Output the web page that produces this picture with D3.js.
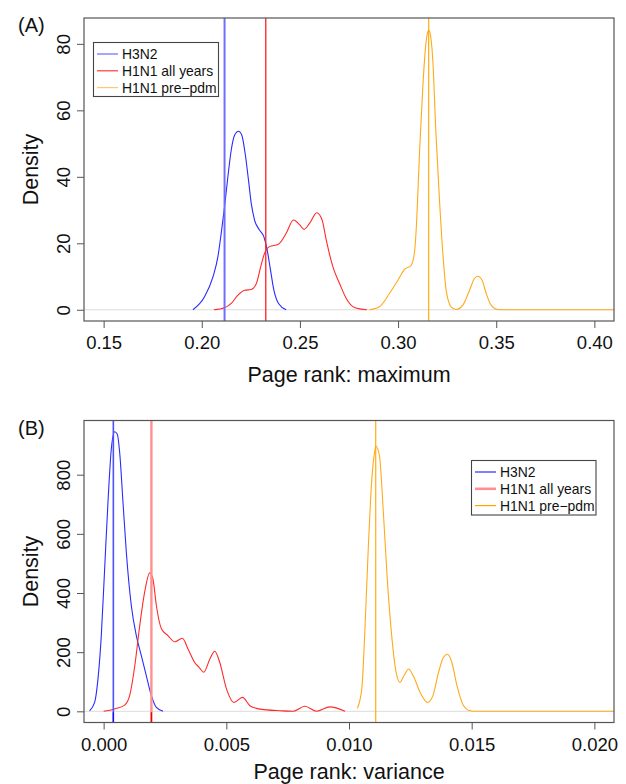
<!DOCTYPE html>
<html>
<head>
<meta charset="utf-8">
<script src="https://cdn.jsdelivr.net/npm/d3@7"></script>
<style>
html,body{margin:0;padding:0;background:#fff;}
svg{display:block;font-family:"Liberation Sans",Arial,Helvetica,sans-serif;}
</style>
</head>
<body>
<svg id="chart" width="626" height="784"></svg>
<script>
// ---------------- DATA ----------------
const seriesNames = ["H3N2", "H1N1 all years", "H1N1 pre\u2212pdm"];

// Panel A: Page rank maximum (x, density)
const aH3N2 = [[0.1955,0],[0.2014,3.9],[0.2057,9.9],[0.2082,15.9],[0.2099,23],[0.2116,31],[0.2133,40],[0.2150,48],[0.2167,52.5],[0.2187,53.7],[0.2204,52.5],[0.2221,47],[0.2238,39],[0.2252,32],[0.2269,27],[0.2294,24],[0.2316,22],[0.2333,18],[0.2350,12],[0.2367,6],[0.2391,1.9],[0.2430,0]];
const aH1N1all = [[0.2062,0],[0.2116,0.6],[0.2150,1.9],[0.2184,4.4],[0.2218,5.9],[0.2252,6.1],[0.2278,7.9],[0.2300,12.9],[0.2320,17],[0.2345,19],[0.2390,19.7],[0.2430,23],[0.2467,27],[0.2498,25.6],[0.2521,24.2],[0.2549,26],[0.2586,29.2],[0.2613,27],[0.2634,21],[0.2668,12.9],[0.2702,7.9],[0.2736,3.4],[0.2778,0.7],[0.2841,0]];
const aH1N1pre = [[0.2854,0],[0.2905,0.9],[0.2956,4.9],[0.2999,8.9],[0.3032,12.1],[0.3067,13.4],[0.3083,17],[0.3095,27],[0.3109,47],[0.3126,67],[0.3140,79],[0.3151,83.6],[0.3156,84.1],[0.3163,83.2],[0.3177,75],[0.3193,53],[0.3211,33],[0.3228,17],[0.3245,5.9],[0.3270,0.9],[0.3296,0.1],[0.3330,1.4],[0.3364,5.9],[0.3389,9.4],[0.3406,10.1],[0.3428,8.9],[0.3449,4.9],[0.3474,1.4],[0.3508,0.1],[0.3600,0],[0.4150,0]];
const aMarkers = [0.2116, 0.2326, 0.3156];
const aXTicks = [0.15, 0.20, 0.25, 0.30, 0.35, 0.40];
const aYTicks = [0, 20, 40, 60, 80];
const aXLim = [0.15, 0.40];
const aYLim = [0, 84.4];

// Panel B: Page rank variance (x, density)
const bH3N2 = [[-0.000571,2],[-0.000367,30],[-0.000231,109],[-0.000095,256],[0.000041,481],[0.000177,707],[0.000313,887],[0.000449,945],[0.000558,937],[0.000653,876],[0.000789,707],[0.000925,538],[0.001129,357],[0.001333,256],[0.001537,188],[0.001741,120],[0.001947,53],[0.00215,13],[0.00242,0]];
const bH1N1all = [[0.0000,0],[0.000449,8],[0.000857,21],[0.00106,53],[0.00127,154],[0.00147,289],[0.00167,402],[0.00188,468],[0.00201,447],[0.00215,357],[0.00236,278],[0.00262,256],[0.00290,235],[0.00321,247],[0.00344,211],[0.00371,165],[0.00390,148],[0.00408,132],[0.00433,177],[0.00453,203],[0.00473,166],[0.00501,75],[0.00531,30],[0.00566,47],[0.00596,19],[0.00623,10],[0.00664,5],[0.00718,2],[0.00773,0],[0.00820,17],[0.00868,0],[0.00922,15],[0.00984,0]];
const bH1N1pre = [[0.01034,10],[0.01052,75],[0.01065,278],[0.01079,560],[0.01093,785],[0.01105,880],[0.01110,896],[0.01124,864],[0.0114,673],[0.01156,447],[0.01174,256],[0.01192,132],[0.01208,98],[0.01224,120],[0.01243,143],[0.01262,120],[0.0129,64],[0.0132,30],[0.01342,53],[0.01365,132],[0.01385,183],[0.01401,193],[0.01419,166],[0.0144,87],[0.01467,19],[0.01494,2],[0.0152,0],[0.0215,0]];
const bMarkers = [0.000396, 0.001947, 0.01109];
const bXTicks = [0, 0.005, 0.010, 0.015, 0.020];
const bYTicks = [0, 200, 400, 600, 800];
const bXLim = [0, 0.020];
const bYLim = [0, 945.4];

// ---------------- DRAW ----------------
const svg = d3.select("#chart");
const frameCol = "#555";

function ext(lim){ const r = lim[1]-lim[0]; return [lim[0]-0.04*r, lim[1]+0.04*r]; }

function panel(cfg){
  const {top, bottom, left, right} = cfg.box;
  const x = d3.scaleLinear().domain(ext(cfg.xlim)).range([left, right]);
  const y = d3.scaleLinear().domain(ext(cfg.ylim)).range([bottom, top]);
  const g = svg.append("g");
  const clipId = "clip" + cfg.id;
  svg.append("clipPath").attr("id", clipId).append("rect")
    .attr("x", left).attr("y", top).attr("width", right-left).attr("height", bottom-top);
  const pg = g.append("g").attr("clip-path", `url(#${clipId})`);

  // zero line
  pg.append("line").attr("x1", left).attr("x2", right)
    .attr("y1", y(0)).attr("y2", y(0)).attr("stroke", "#dcdcdc").attr("stroke-width", 1);

  const line = d3.line().x(d => x(d[0])).y(d => y(d[1])).curve(d3.curveMonotoneX);
  cfg.series.forEach((s, i) => {
    pg.append("path").datum(s).attr("d", line).attr("fill", "none")
      .attr("stroke", cfg.curveColors[i]).attr("stroke-width", 1.1);
  });

  // vertical markers
  cfg.markers.forEach((m, i) => {
    const st = cfg.markerStyles[i];
    pg.append("line").attr("x1", x(m)).attr("x2", x(m)).attr("y1", top).attr("y2", bottom)
      .attr("stroke", st.c).attr("stroke-width", st.w);
    if (st.bottom) {
      pg.append("line").attr("x1", x(m)).attr("x2", x(m)).attr("y1", y(0)+1).attr("y2", bottom)
        .attr("stroke", st.bottom).attr("stroke-width", 1.3);
    }
  });

  // box
  g.append("rect").attr("x", left).attr("y", top).attr("width", right-left).attr("height", bottom-top)
    .attr("fill", "none").attr("stroke", frameCol).attr("stroke-width", 1.2);

  // x axis
  const xa = d3.axisBottom(x).tickValues(cfg.xticks).tickSize(7).tickPadding(8).tickFormat(cfg.xfmt);
  const gx = g.append("g").attr("transform", `translate(0,${bottom})`).call(xa);
  gx.select(".domain").remove();
  gx.selectAll("line").attr("stroke", frameCol);
  gx.selectAll("text").attr("font-size", 18.5).attr("fill", "#111").attr("font-family", "Liberation Sans, Arial, sans-serif");

  // y axis (rotated labels as in R)
  const ya = d3.axisLeft(y).tickValues(cfg.yticks).tickSize(7).tickFormat(d3.format("d"));
  const gy = g.append("g").attr("transform", `translate(${left},0)`).call(ya);
  gy.select(".domain").remove();
  gy.selectAll("line").attr("stroke", frameCol);
  gy.selectAll("text").attr("font-size", 18.5).attr("fill", "#111").attr("font-family", "Liberation Sans, Arial, sans-serif")
    .attr("x", null).attr("dy", null).attr("text-anchor", "middle")
    .attr("transform", "translate(-14,0) rotate(-90)").attr("y", 0);

  // titles
  g.append("text").attr("x", (left+right)/2).attr("y", bottom + cfg.titleOffset).attr("text-anchor", "middle")
    .attr("font-size", 21.5).attr("fill", "#111").text(cfg.xtitle);
  g.append("text").attr("transform", `translate(37.5,${(top+bottom)/2}) rotate(-90)`).attr("text-anchor", "middle")
    .attr("font-size", 21.5).attr("fill", "#111").text("Density");
  g.append("text").attr("x", 18).attr("y", top + 14).attr("font-size", 20).attr("fill", "#111").text(cfg.tag);

  // legend
  const L = cfg.legend;
  g.append("rect").attr("x", L.x).attr("y", L.y).attr("width", L.w).attr("height", L.h)
    .attr("fill", "#fff").attr("stroke", "#444").attr("stroke-width", 1.1);
  seriesNames.forEach((n, i) => {
    const yy = L.y + 11.5 + i * 16.8;
    g.append("line").attr("x1", L.x + 3.5).attr("x2", L.x + 24.5).attr("y1", yy).attr("y2", yy)
      .attr("stroke", L.colors[i]).attr("stroke-width", L.widths[i]);
    g.append("text").attr("x", L.x + 28.5).attr("y", yy + 5).attr("font-size", 13.9).attr("fill", "#111").text(n);
  });
}

panel({
  id: "A", tag: "(A)",
  box: {left: 84, right: 614, top: 18, bottom: 321},
  xlim: aXLim, ylim: aYLim, xticks: aXTicks, yticks: aYTicks,
  xfmt: d3.format(".2f"),
  series: [aH3N2, aH1N1all, aH1N1pre],
  curveColors: ["#2a2aff", "#ff2a2a", "#ffaa1a"],
  markers: aMarkers,
  markerStyles: [{c: "#6f6fff", w: 2}, {c: "#ff2020", w: 1.3}, {c: "#ffa500", w: 1.1}],
  xtitle: "Page rank: maximum", titleOffset: 61,
  legend: {x: 93.5, y: 42.5, w: 125, h: 54, colors: ["#6a6aff", "#ff3a3a", "#ffc870"], widths: [1.2, 1.2, 1.2]}
});

panel({
  id: "B", tag: "(B)",
  box: {left: 84, right: 614, top: 420.5, bottom: 722.5},
  xlim: bXLim, ylim: bYLim, xticks: bXTicks, yticks: bYTicks,
  xfmt: d3.format(".3f"),
  series: [bH3N2, bH1N1all, bH1N1pre],
  curveColors: ["#2a2aff", "#ff2a2a", "#ffaa1a"],
  markers: bMarkers,
  markerStyles: [{c: "#5050ff", w: 1.6, bottom: "#1010ee"}, {c: "#ff9090", w: 2.4, bottom: "#ee0000"}, {c: "#ffa500", w: 1.1}],
  xtitle: "Page rank: variance", titleOffset: 56,
  legend: {x: 471.5, y: 460.5, w: 124.5, h: 54.5, colors: ["#2a2aff", "#ff9090", "#ffa500"], widths: [1.2, 2.6, 1.2]}
});
</script>
</body>
</html>
